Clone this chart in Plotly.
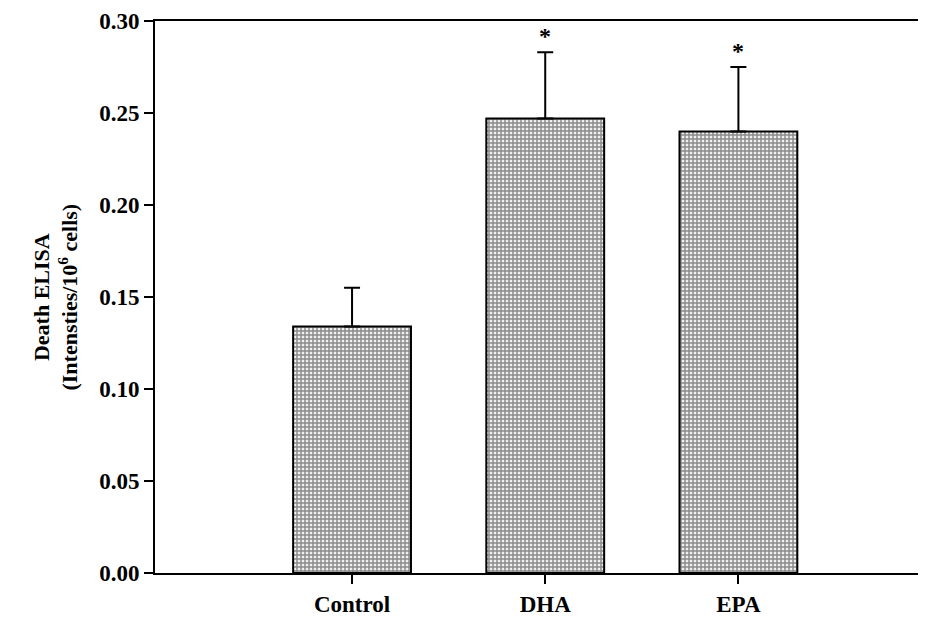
import plotly.graph_objects as go

categories = ["Control", "DHA", "EPA"]
values = [0.134, 0.247, 0.240]
errors = [0.021, 0.036, 0.035]
significant = [False, True, True]
y_ticks = [0.00, 0.05, 0.10, 0.15, 0.20, 0.25, 0.30]

FONT = "Liberation Serif"

fig = go.Figure()
fig.add_trace(go.Bar(
    x=categories,
    y=values,
    width=0.61,
    marker=dict(
        color="#8a8a8a",
        line=dict(color="black", width=2),
        pattern=dict(shape="+", size=4, solidity=0.6, fgcolor="#262626", bgcolor="#f0f0f0"),
    ),
    error_y=dict(type="data", array=errors, arrayminus=[0] * len(errors), symmetric=False,
                 color="black", thickness=2, width=8),
    showlegend=False,
))

for c, v, e, s in zip(categories, values, errors, significant):
    if s:
        fig.add_annotation(x=c, y=v + e, text="<b>*</b>", showarrow=False,
                           yanchor="bottom", yshift=1,
                           font=dict(family=FONT, size=24, color="black"))

fig.add_annotation(
    xref="paper", yref="paper", x=-0.13, y=0.5, textangle=-90,
    text="<b>Death ELISA</b><br><b>(Intensties/10<sup>6</sup> cells)</b>",
    showarrow=False, xanchor="center", yanchor="middle",
    font=dict(family=FONT, size=22, color="black"),
)

# page body has an 8px default margin, so the figure is sized to fill the rest
fig.update_layout(
    width=918, height=621,
    margin=dict(l=147, r=6, t=13, b=56, autoexpand=False),
    paper_bgcolor="white", plot_bgcolor="white",
    font=dict(family=FONT, color="black"),
    xaxis=dict(
        range=[-1.02, 2.94], showline=True, linecolor="black", linewidth=2, mirror=True,
        ticks="outside", ticklen=9, tickwidth=2, tickcolor="black",
        tickfont=dict(family=FONT, size=23, color="black"),
        showgrid=False, zeroline=False, automargin=False,
        tickvals=categories, ticktext=["<b>%s</b>" % c for c in categories],
    ),
    yaxis=dict(
        range=[0, 0.30], showline=True, linecolor="black", linewidth=2, mirror=False,
        ticks="outside", ticklen=9, tickwidth=2, tickcolor="black",
        tickvals=y_ticks, ticktext=["<b>%.2f</b>" % t for t in y_ticks],
        tickfont=dict(family=FONT, size=23, color="black"),
        ticklabeloverflow="allow",
        showgrid=False, zeroline=False, automargin=False,
    ),
)

fig.write_html("out.html")
